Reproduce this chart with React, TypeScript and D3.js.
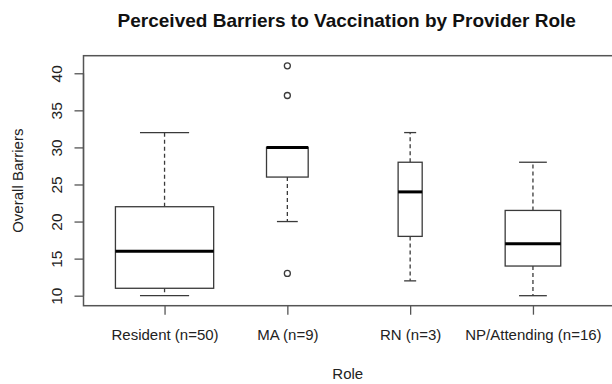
import React, { useEffect, useRef } from 'react';
import * as d3 from 'd3';

// summary stats (R boxplot, varwidth)
const roles = ["Resident (n=50)", "MA (n=9)", "RN (n=3)", "NP/Attending (n=16)"];
const counts = [50, 9, 3, 16];
const lowerWhisker = [10, 20, 12, 10];
const q1 = [11, 26, 18, 14];
const medians = [16, 30, 24, 17];
const q3 = [22, 30, 28, 21.5];
const upperWhisker = [32, 30, 32, 28];
const outliers = [[], [41, 37, 13], [], []];
const yTicks = [10, 15, 20, 25, 30, 35, 40];

const W = 612;
const H = 384;
const FONT = "'Liberation Sans', Arial, sans-serif";
const INK = "#3a3a3a";

export default function App() {
	const ref = useRef<SVGSVGElement>(null);

	useEffect(() => {
		const svg = d3.select(ref.current);
		svg.selectAll("*").remove();

		const left = 83.5, right = 614, top = 55.7, bottom = 305.7;

		const x = d3.scaleLinear().domain([0.34, roles.length + 0.66]).range([left, right]);
		const y = d3.scaleLinear().domain([8.65, 42.37]).range([bottom, top]);

		const maxSqrt = Math.sqrt(d3.max(counts));
		const unit = x(1) - x(0);

		// title
		svg.append("text")
			.attr("x", (left + right) / 2 - 2)
			.attr("y", 27)
			.attr("text-anchor", "middle")
			.attr("font-family", FONT)
			.attr("font-weight", "bold")
			.attr("font-size", 19)
			.attr("fill", "#111")
			.text("Perceived Barriers to Vaccination by Provider Role");

		const g = svg.append("g");

		roles.forEach((r, i) => {
			const cx = x(i + 1);
			const bw = 0.8 * unit * Math.sqrt(counts[i]) / maxSqrt;
			const sw = bw / 2;

			// whiskers
			[[q3[i], upperWhisker[i]], [q1[i], lowerWhisker[i]]].forEach(([a, b]) => {
				if (a === b) return;
				g.append("line")
					.attr("x1", cx).attr("x2", cx)
					.attr("y1", y(a)).attr("y2", y(b))
					.attr("stroke", INK).attr("stroke-width", 1.3)
					.attr("stroke-dasharray", "4,3");
				g.append("line")
					.attr("x1", cx - sw / 2).attr("x2", cx + sw / 2)
					.attr("y1", y(b)).attr("y2", y(b))
					.attr("stroke", INK).attr("stroke-width", 1.3);
			});

			g.append("rect")
				.attr("x", cx - bw / 2)
				.attr("y", y(q3[i]))
				.attr("width", bw)
				.attr("height", y(q1[i]) - y(q3[i]))
				.attr("fill", "white")
				.attr("stroke", INK)
				.attr("stroke-width", 1.3);

			g.append("line")
				.attr("x1", cx - bw / 2).attr("x2", cx + bw / 2)
				.attr("y1", y(medians[i])).attr("y2", y(medians[i]))
				.attr("stroke", "#000").attr("stroke-width", 3);

			g.selectAll(null)
				.data(outliers[i])
				.enter().append("circle")
				.attr("cx", cx)
				.attr("cy", d => y(d))
				.attr("r", 3)
				.attr("fill", "none")
				.attr("stroke", INK)
				.attr("stroke-width", 1.3);
		});

		// frame
		svg.append("rect")
			.attr("x", left).attr("y", top)
			.attr("width", right - left).attr("height", bottom - top)
			.attr("fill", "none")
			.attr("stroke", "#555")
			.attr("stroke-width", 1.5);

		// y axis
		const yAxis = svg.append("g")
			.attr("transform", "translate(" + left + ",0)")
			.call(d3.axisLeft(y).tickValues(yTicks).tickSize(9).tickSizeOuter(0));
		yAxis.select(".domain")
			.attr("d", "M0," + y(10) + "V" + y(40))
			.attr("stroke", "#555").attr("stroke-width", 1.3);
		yAxis.selectAll(".tick line").attr("stroke", "#555").attr("stroke-width", 1.3);
		yAxis.selectAll(".tick text")
			.attr("transform", "rotate(-90)")
			.attr("x", 0)
			.attr("y", -(left - 61.7))
			.attr("dy", 0)
			.attr("text-anchor", "middle")
			.attr("font-family", FONT)
			.attr("font-size", 15.5)
			.attr("fill", "#222");

		// x axis
		const xAxis = svg.append("g")
			.attr("transform", "translate(0," + bottom + ")")
			.call(d3.axisBottom(x).tickValues(d3.range(1, roles.length + 1))
				.tickFormat((d, i) => roles[i]).tickSize(9).tickSizeOuter(0));
		xAxis.select(".domain").remove();
		xAxis.selectAll(".tick line").attr("stroke", "#555").attr("stroke-width", 1.3);
		xAxis.selectAll(".tick text")
			.attr("y", 340 - bottom)
			.attr("dy", 0)
			.attr("font-family", FONT)
			.attr("font-size", 15)
			.attr("fill", "#222");

		// axis titles
		svg.append("text")
			.attr("x", (left + right) / 2 - 1)
			.attr("y", 379)
			.attr("text-anchor", "middle")
			.attr("font-family", FONT)
			.attr("font-size", 15)
			.attr("fill", "#222")
			.text("Role");

		svg.append("text")
			.attr("transform", "translate(23," + (top + bottom) / 2 + ") rotate(-90)")
			.attr("text-anchor", "middle")
			.attr("font-family", FONT)
			.attr("font-size", 15)
			.attr("fill", "#222")
			.text("Overall Barriers");
	}, []);

	return (
		<svg ref={ref} width={W} height={H}
			style={{ position: "absolute", left: 0, top: 0, background: "white" }}>
		</svg>
	);
}
